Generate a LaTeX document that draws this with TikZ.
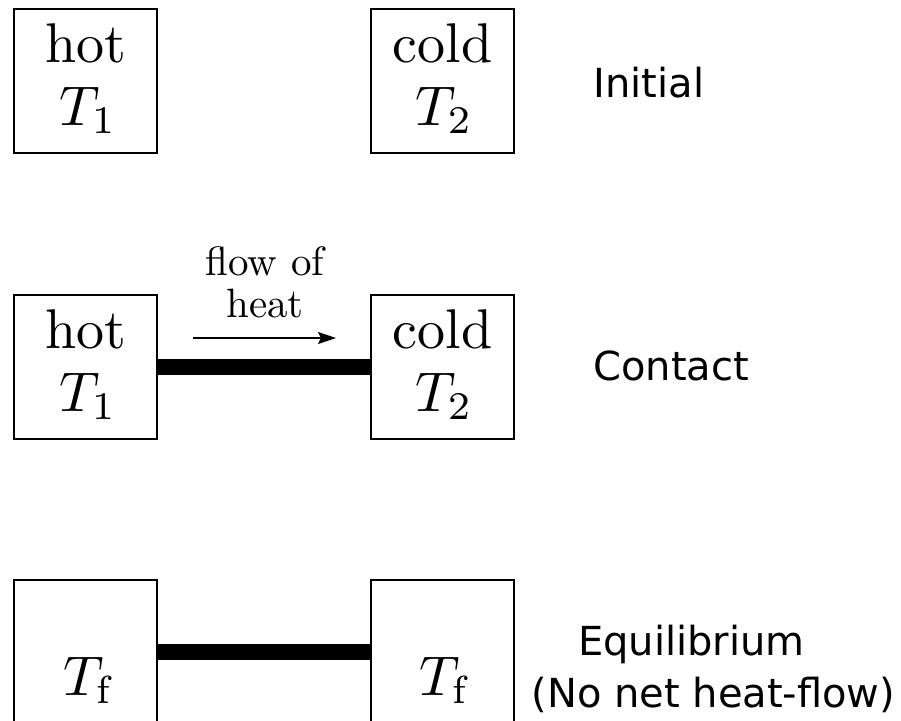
\documentclass[tikz,border=0pt]{standalone}
\usepackage{fontspec}
\usepackage{graphicx}
\newfontfamily\dvsans{DejaVu Sans}
\usetikzlibrary{arrows.meta}
\newcommand{\bigtxt}[1]{\scalebox{2.8}{#1}}
\newcommand{\midtxt}[1]{\scalebox{2.05}{#1}}
\tikzset{
  bodybox/.style={draw, line width=1pt, minimum width=71.5pt, minimum height=72pt, inner sep=0pt},
  boxtext/.style={font=\fontsize{10}{12}\selectfont, inner sep=0pt, anchor=base},
  flowtext/.style={font=\fontsize{10}{12}\selectfont, inner sep=0pt, anchor=base},
  sidetext/.style={font=\dvsans\fontsize{20}{24}\selectfont, inner sep=0pt},
  bar/.style={line width=8pt},
  flowarrow/.style={line width=0.8pt, -{Stealth[length=9pt,width=6pt,inset=1.5pt]}}
}
\begin{document}
\begin{tikzpicture}[x=0.5pt, y=-0.5pt]
\useasboundingbox (0,0) rectangle (901,720);
\clip (0,0) rectangle (901,720);
% row 1
\node[bodybox] (L1) at (85.5,81) {};
\node[bodybox] (R1) at (442.5,81) {};
\node[boxtext] (L1a) at (85.5,62) {\bigtxt{hot}};
\node[boxtext] (L1b) at (88,125) {\bigtxt{$T_1$}};
\node[boxtext] (R1a) at (442.5,62) {\bigtxt{cold}};
\node[boxtext] (R1b) at (444,125) {\bigtxt{$T_2$}};
\node[sidetext, anchor=base west] (init) at (593,97) {Initial};
% row 2
\node[bodybox] (L2) at (85.5,366.5) {};
\node[bodybox] (R2) at (442.5,366.5) {};
\node[boxtext] (L2a) at (85.5,348) {\bigtxt{hot}};
\node[boxtext] (L2b) at (88,411) {\bigtxt{$T_1$}};
\node[boxtext] (R2a) at (442.5,348) {\bigtxt{cold}};
\node[boxtext] (R2b) at (444,411) {\bigtxt{$T_2$}};
\draw[bar] (L2.east) -- (R2.west);
\node[flowtext] (flow1) at (265,275) {\midtxt{flow of}};
\node[flowtext] (flow2) at (265,317) {\midtxt{heat}};
\coordinate (a1) at (193,338);
\coordinate (a2) at (336,338);
\draw[flowarrow] (a1) -- (a2);
\node[sidetext, anchor=base west] (cont) at (593,380) {Contact};
% row 3
\node[bodybox] (L3) at (85.5,652) {};
\node[bodybox] (R3) at (442.5,652) {};
\node[boxtext] (L3a) at (88,695) {\bigtxt{$T_{\mathrm{f}}$}};
\node[boxtext] (R3a) at (444,695) {\bigtxt{$T_{\mathrm{f}}$}};
\draw[bar] (L3.east) -- (R3.west);
\node[sidetext, anchor=base] (eq) at (691.5,655) {Equilibrium};
\node[sidetext, anchor=base] (nonet) at (713.5,707) {(No net heat-flow)};
\end{tikzpicture}
\end{document}
